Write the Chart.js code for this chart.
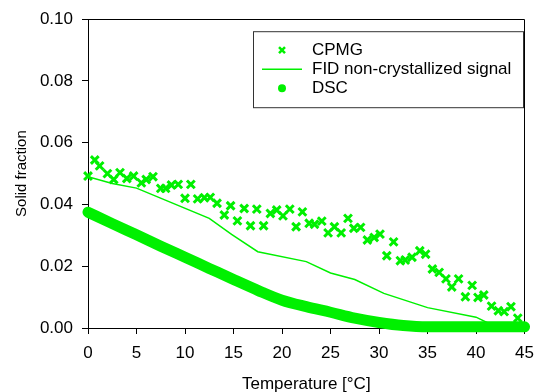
<!DOCTYPE html>
<html>
<head>
<meta charset="utf-8">
<title>Solid fraction</title>
<script src="https://cdn.jsdelivr.net/npm/chart.js@4.4.1/dist/chart.umd.min.js"></script>
<style>
  html, body { margin: 0; padding: 0; background: #fff; }
</style>
</head>
<body>
<canvas id="solidChart" width="543" height="392"></canvas>
<script>
// CPMG points (temperature in °C, solid fraction)
const cpmgTemp = [0.0, 0.7, 1.2, 2.0, 2.65, 3.3, 4.0, 4.7, 5.5, 6.0,
    6.7, 7.5, 8.0, 8.6, 9.3, 10.0, 10.6, 11.3, 12.0, 12.6,
    13.3, 14.05, 14.7, 15.4, 16.1, 16.75, 17.4, 18.1, 18.8, 19.45,
    20.1, 20.8, 21.45, 22.1, 22.8, 23.35, 24.1, 24.75, 25.4, 26.1,
    26.8, 27.4, 28.1, 28.8, 29.5, 30.1, 30.8, 31.5, 32.2, 32.7,
    33.4, 34.2, 34.8, 35.5, 36.2, 36.9, 37.5, 38.2, 38.9, 39.6,
    40.2, 40.8, 41.6, 42.3, 42.9, 43.6, 44.3];
const cpmgValue = [0.0492, 0.0544, 0.0525, 0.0500, 0.0481, 0.0503, 0.0484, 0.0492, 0.0470, 0.0481,
    0.0490, 0.0452, 0.0452, 0.0463, 0.0465, 0.0420, 0.0465, 0.0418, 0.0422, 0.0423,
    0.0404, 0.0366, 0.0396, 0.0347, 0.0387, 0.0331, 0.0385, 0.0331, 0.0371, 0.0382,
    0.0363, 0.0385, 0.0328, 0.0376, 0.0339, 0.0336, 0.0346, 0.0308, 0.0328, 0.0308,
    0.0355, 0.0323, 0.0326, 0.0285, 0.0293, 0.0304, 0.0234, 0.0279, 0.0218, 0.0220,
    0.0229, 0.0250, 0.0239, 0.0191, 0.0180, 0.0159, 0.0133, 0.0159, 0.0101, 0.0138,
    0.0099, 0.0107, 0.0071, 0.0056, 0.0053, 0.0069, 0.0032];

// FID non-crystallized signal (line)
const fidTemp = [0, 2.5, 5.0, 12.5, 14.8, 17.5, 22.5, 25.0, 27.5, 30.5, 35.0, 40.0, 41.5, 43.0, 45.0];
const fidValue = [0.0490, 0.0468, 0.0453, 0.0355, 0.0303, 0.0247, 0.0215, 0.0178, 0.0157, 0.0112, 0.0066, 0.0035, 0.0012, 0.0004, 0.0002];

// DSC (dense run of dots, read along the middle of the band)
const dscTemp = [0, 2.5, 5, 7.5, 10, 12.5, 15, 17.5, 20, 22.5, 25, 27.5, 30, 32.5, 35, 40, 45];
const dscValue = [0.0375, 0.0338, 0.0302, 0.0265, 0.0229, 0.0193, 0.0157, 0.0122, 0.0090, 0.0069, 0.0051, 0.0032, 0.0018, 0.0008, 0.0004, 0.0004, 0.0004];

const seriesLabels = ['CPMG', 'FID non-crystallized signal', 'DSC'];
const xTicks = [0, 5, 10, 15, 20, 25, 30, 35, 40, 45];
const yTicks = [0, 0.02, 0.04, 0.06, 0.08, 0.10];

const green = '#00f000';
const fontFamily = '"Liberation Sans", Arial, sans-serif';

function toPoints(xs, ys) {
    return xs.map((x, i) => ({ x: x, y: ys[i] }));
}

// frame round the plot (top and right sides)
const frame = {
    id: 'frame',
    beforeDatasetsDraw(chart) {
        const { ctx, chartArea: a } = chart;
        ctx.save();
        ctx.strokeStyle = '#000';
        ctx.lineWidth = 1;
        ctx.beginPath();
        ctx.moveTo(Math.round(a.left) + 0.5, Math.round(a.top) + 0.5);
        ctx.lineTo(Math.round(a.right) - 0.5, Math.round(a.top) + 0.5);
        ctx.lineTo(Math.round(a.right) - 0.5, Math.round(a.bottom) + 0.5);
        ctx.stroke();
        ctx.restore();
    }
};

// boxed legend inside the plot
const boxLegend = {
    id: 'boxLegend',
    afterDatasetsDraw(chart) {
        const { ctx, chartArea: a } = chart;
        const bx = a.left + 165, by = a.top + 12, bw = 270, bh = 76;
        ctx.save();
        ctx.fillStyle = '#fff';
        ctx.fillRect(bx, by, bw, bh);
        ctx.strokeStyle = '#333';
        ctx.lineWidth = 1;
        ctx.strokeRect(bx + 0.5, by + 0.5, bw, bh);

        const mx = bx + 29, tx = bx + 59;
        const rows = [by + 19, by + 38, by + 57];
        ctx.strokeStyle = green;
        ctx.fillStyle = green;

        // cross
        ctx.lineWidth = 2.5;
        ctx.beginPath();
        ctx.moveTo(mx - 3, rows[0] - 3); ctx.lineTo(mx + 3, rows[0] + 3);
        ctx.moveTo(mx + 3, rows[0] - 3); ctx.lineTo(mx - 3, rows[0] + 3);
        ctx.stroke();
        // line
        ctx.lineWidth = 1.5;
        ctx.beginPath();
        ctx.moveTo(mx - 20, rows[1]); ctx.lineTo(mx + 20, rows[1]);
        ctx.stroke();
        // dot
        ctx.beginPath();
        ctx.arc(mx, rows[2], 4, 0, Math.PI * 2);
        ctx.fill();

        ctx.fillStyle = '#000';
        ctx.font = '17px ' + fontFamily;
        ctx.textBaseline = 'middle';
        ctx.textAlign = 'left';
        chart.data.datasets.forEach((ds, i) => ctx.fillText(ds.label, tx, rows[i]));
        ctx.restore();
    }
};

const ctx = document.getElementById('solidChart');
new Chart(ctx, {
    type: 'scatter',
    data: {
        datasets: [
            {
                label: seriesLabels[0],
                data: toPoints(cpmgTemp, cpmgValue),
                showLine: false,
                pointStyle: 'crossRot',
                pointRadius: 5.5,
                borderColor: green,
                backgroundColor: green,
                pointBorderWidth: 3,
                clip: false
            },
            {
                label: seriesLabels[1],
                data: toPoints(fidTemp, fidValue),
                showLine: true,
                borderColor: green,
                borderWidth: 1.5,
                pointRadius: 0,
                tension: 0
            },
            {
                label: seriesLabels[2],
                data: toPoints(dscTemp, dscValue),
                showLine: true,
                borderColor: green,
                backgroundColor: green,
                borderWidth: 11,
                borderCapStyle: 'round',
                borderJoinStyle: 'round',
                cubicInterpolationMode: 'monotone',
                pointRadius: 0,
                clip: false
            }
        ]
    },
    options: {
        responsive: false,
        animation: false,
        devicePixelRatio: 1,
        layout: {
            padding: { top: 19, right: 9, bottom: 0, left: 0 }
        },
        scales: {
            x: {
                type: 'linear',
                min: 0,
                max: 45,
                afterBuildTicks: axis => { axis.ticks = xTicks.map(v => ({ value: v })); },
                afterFit: axis => { axis.height = 64; },
                border: { color: '#000', width: 1 },
                grid: {
                    drawOnChartArea: false,
                    drawTicks: true,
                    tickLength: 6,
                    tickColor: '#000'
                },
                ticks: {
                    color: '#000',
                    padding: 9,
                    maxRotation: 0,
                    font: { size: 17, family: fontFamily }
                },
                title: {
                    display: true,
                    text: 'Temperature [°C]',
                    color: '#000',
                    padding: { top: 0, bottom: -3 },
                    font: { size: 17, family: fontFamily }
                }
            },
            y: {
                type: 'linear',
                min: 0,
                max: 0.10,
                afterBuildTicks: axis => { axis.ticks = yTicks.map(v => ({ value: v })); },
                afterFit: axis => { axis.width = 88; },
                border: { color: '#000', width: 1 },
                grid: {
                    drawOnChartArea: false,
                    drawTicks: true,
                    tickLength: 6,
                    tickColor: '#000'
                },
                ticks: {
                    color: '#000',
                    padding: 9,
                    font: { size: 17, family: fontFamily },
                    callback: v => v.toFixed(2)
                },
                title: {
                    display: true,
                    text: 'Solid fraction',
                    color: '#000',
                    padding: { top: 13, bottom: 0 },
                    font: { size: 15, family: fontFamily }
                }
            }
        },
        plugins: {
            legend: { display: false },
            tooltip: { enabled: false }
        }
    },
    plugins: [frame, boxLegend]
});
</script>
</body>
</html>
